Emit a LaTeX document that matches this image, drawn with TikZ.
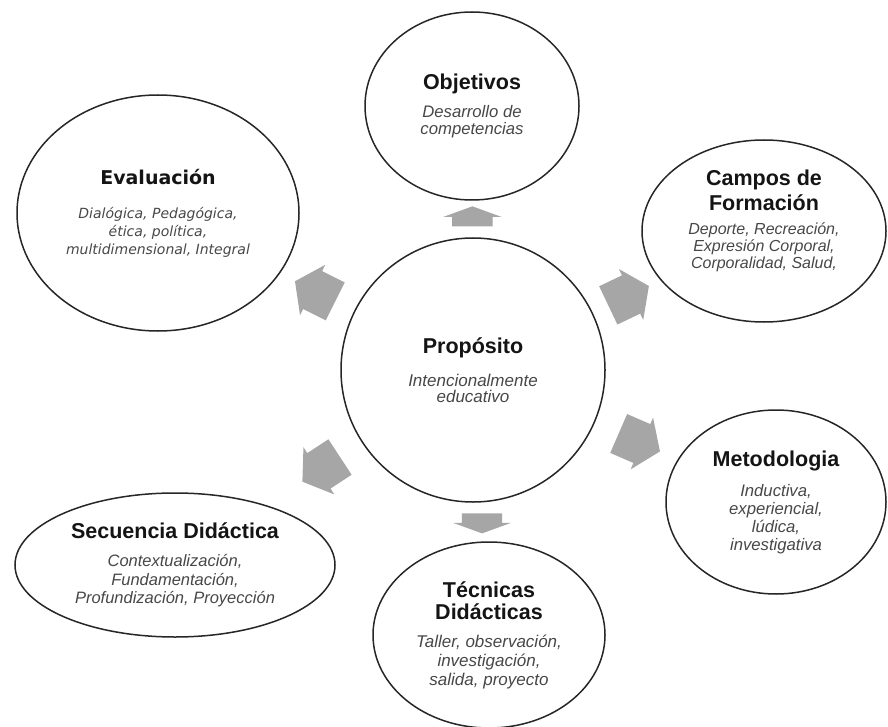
\documentclass[tikz,border=0pt]{standalone}
\usepackage{fontspec}
\setmainfont{Liberation Sans}
\newfontfamily\evalfont{DejaVu Sans}
\usetikzlibrary{shapes.geometric,shapes.arrows,calc}

\begin{document}
\begin{tikzpicture}[
  x=1pt, y=-1pt,
  bubble/.style={ellipse, draw=black!85, line width=1.5pt, align=center,
    inner sep=0pt, text=black!72},
  body/.style 2 args={font=\fontsize{#1}{#2}\selectfont\itshape},
  flatarrow/.style={single arrow, fill=gray!70, draw=none, inner sep=0pt,
    inner ysep=20pt, single arrow head extend=9pt, single arrow tip angle=140,
    minimum height=20pt},
  fatarrow/.style={single arrow, fill=gray!70, draw=none, inner sep=0pt,
    inner ysep=21pt, single arrow head extend=7pt, single arrow tip angle=110,
    minimum height=45pt},
]

%% Bold heading inside a bubble
\newcommand{\heading}[2][21.5]{{\fontsize{#1}{24}\selectfont\bfseries\upshape\color{black!92}#2}}

\useasboundingbox (0,0) rectangle (888,727);

%% Centre
\node[bubble, body={17}{16}, minimum width=264pt, minimum height=264pt]
  (prop) at (473,370)
  {\heading{Propósito}\\[15pt]Intencionalmente\\educativo};

%% Outer ring
\node[bubble, body={16.7}{17}, minimum width=214pt, minimum height=188pt]
  (obj) at (472,106)
  {\heading{Objetivos}\\[11pt]Desarrollo de\\competencias};
\node[bubble, body={16}{17}, minimum width=244pt, minimum height=182pt,
      text depth=24pt]
  (campos) at (764,231)
  {\heading{Campos de}\\[4pt]\heading{Formación}\\[7pt]Deporte, Recreación,\\
   Expresión Corporal,\\Corporalidad, Salud,};
\node[bubble, body={16.7}{18}, minimum width=220pt, minimum height=184pt]
  (metod) at (776,502)
  {\heading{Metodologia}\\[12pt]Inductiva,\\experiencial,\\lúdica,\\investigativa};
\node[bubble, body={17}{19}, minimum width=232pt, minimum height=186pt]
  (tec) at (489,635)
  {\heading{Técnicas}\\[3pt]\heading{Didácticas}\\[9pt]Taller, observación,\\
   investigación,\\salida, proyecto};
\node[bubble, body={16.5}{18.5}, minimum width=320pt, minimum height=144pt]
  (sec) at (175,565)
  {\heading{Secuencia Didáctica}\\[9.5pt]Contextualización,\\Fundamentación,\\
   Profundización,  Proyección};
\node[bubble, font=\evalfont\fontsize{14}{18}\selectfont\itshape,
      minimum width=282pt, minimum height=236pt]
  (eval) at (158,213)
  {\heading[19]{\evalfont Evaluación}\\[16pt]Dialógica, Pedagógica,\\
   ética, política,\\multidimensional, Integral};

%% Grey block arrows from the centre outwards
\foreach \target/\ang/\dist/\kind in {obj/90/150/flatarrow,
    campos/25.5/165/fatarrow, metod/-23.5/174/fatarrow, tec/-90/150/flatarrow,
    sec/213.2/174/fatarrow, eval/153.5/169/fatarrow} {
  \node[\kind, rotate=\ang] (arr-\target) at ($(prop)!\dist pt!(\target)$) {};
}

\end{tikzpicture}
\end{document}
